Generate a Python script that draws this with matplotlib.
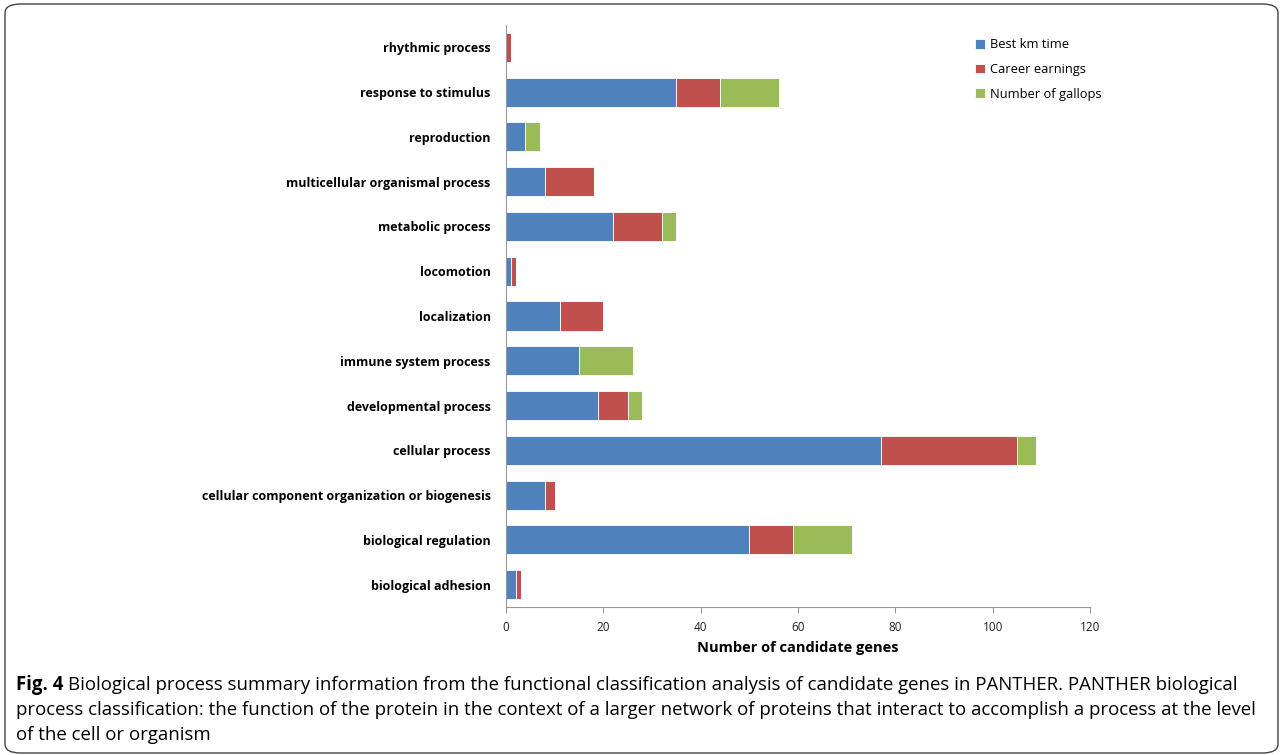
import numpy as np
import matplotlib
matplotlib.use('Agg')
import matplotlib.pyplot as plt
from matplotlib.patches import FancyBboxPatch

# bottom-to-top order, as plotted
categories = ['biological adhesion', 'biological regulation',
              'cellular component organization or biogenesis',
              'cellular process', 'developmental process',
              'immune system process', 'localization', 'locomotion',
              'metabolic process', 'multicellular organismal process',
              'reproduction', 'response to stimulus', 'rhythmic process']
best_km = [2, 50, 8, 77, 19, 15, 11, 1, 22, 8, 4, 35, 0]
earnings = [1, 9, 2, 28, 6, 0, 9, 1, 10, 10, 0, 9, 1]
gallops = [0, 12, 0, 4, 3, 11, 0, 0, 3, 0, 3, 12, 0]
series_names = ['Best km time', 'Career earnings', 'Number of gallops']
xticks = [0, 20, 40, 60, 80, 100, 120]

colors = ['#4F81BD', '#C0504D', '#9BBB59']
font = ['Open Sans', 'DejaVu Sans']

W, H = 1284, 755
fig = plt.figure(figsize=(W / 100, H / 100), dpi=100)
ax = fig.add_axes([506 / W, 1 - 607 / H, (1090 - 506) / W, (607 - 25) / H])

y = np.arange(len(categories))
left = np.zeros(len(categories))
for vals, name, c in zip([best_km, earnings, gallops], series_names, colors):
    ax.barh(y, vals, left=left, height=0.65, color=c, label=name,
            edgecolor='white', linewidth=0.6)
    left += np.array(vals)

ax.set_ylim(-0.5, len(categories) - 0.5)
ax.set_xlim(0, 120)
ax.set_xticks(xticks)
ax.set_xticklabels([str(t) for t in xticks], fontsize=8.5, family=font,
                   color='#222222')
ax.set_yticks(y)
ax.set_yticklabels(categories, fontsize=9, fontweight='bold', family=font)
ax.tick_params(axis='y', length=0, pad=11)
ax.tick_params(axis='x', length=4, color='#999999', pad=6)
for s in ['top', 'right']:
    ax.spines[s].set_visible(False)
for s in ['left', 'bottom']:
    ax.spines[s].set_color('#999999')
ax.set_xlabel('Number of candidate genes', fontsize=10.5, fontweight='bold',
              family=font, labelpad=5)

ax.legend(loc='upper left', bbox_to_anchor=(0.783, 0.997), frameon=False,
          prop={'family': font, 'size': 9.3}, handlelength=0.75,
          handleheight=0.75, handletextpad=0.45, labelspacing=0.9)

# caption
cap_size = 13.4
cap1 = ('Biological process summary information from the functional '
        'classification analysis of candidate genes in PANTHER. PANTHER biological')
cap2 = ('process classification: the function of the protein in the context of a '
        'larger network of proteins that interact to accomplish a process at the level')
cap3 = 'of the cell or organism'
head = fig.text(16 / W, 1 - 685 / H, 'Fig. 4', fontsize=cap_size,
                fontweight='bold', family=font, va='center')
fig.canvas.draw()
bb = head.get_window_extent()
fig.text((bb.x1 + 5) / W, 1 - 685 / H, cap1, fontsize=cap_size, family=font,
         va='center')
fig.text(16 / W, 1 - 710 / H, cap2, fontsize=cap_size, family=font, va='center')
fig.text(16 / W, 1 - 735 / H, cap3, fontsize=cap_size, family=font, va='center')

# frame around figure
frame = FancyBboxPatch((5 / W, 2 / H), 1273 / W, 749 / H,
                       boxstyle='round,pad=0,rounding_size=0.012',
                       transform=fig.transFigure, fill=False,
                       edgecolor='#444444', linewidth=1.0)
fig.patches.append(frame)

fig.savefig('out.png', dpi=100)
